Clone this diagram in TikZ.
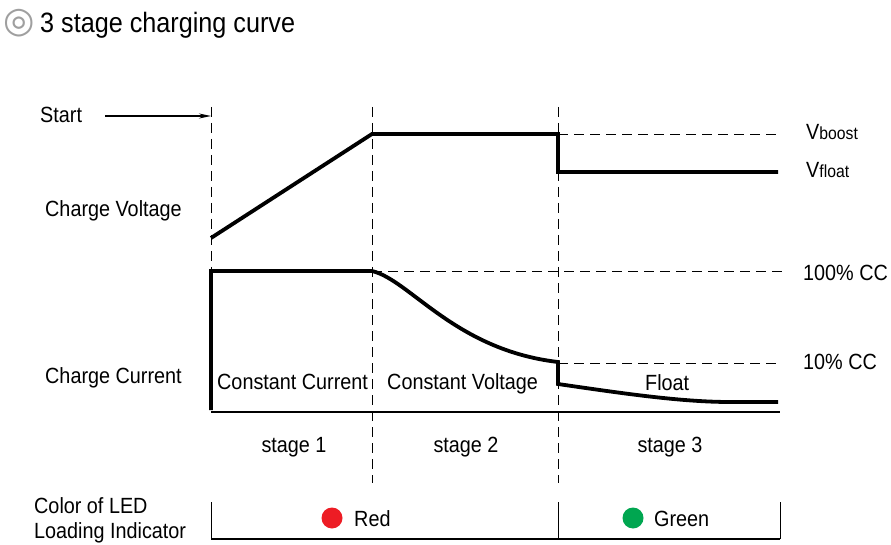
\documentclass[tikz,border=0pt]{standalone}
\usepackage{fontspec}
\setmainfont{Liberation Sans}[FakeStretch=0.9]
\newfontfamily\symfont{DejaVu Sans}
\usepackage{tikz}
\usetikzlibrary{arrows.meta}
\definecolor{ledred}{RGB}{237,28,36}
\definecolor{ledgreen}{RGB}{0,166,80}
\newcommand{\bigtext}{\fontsize{28}{32}\selectfont}
\newcommand{\lbltext}{\fontsize{22}{26}\selectfont}
\newcommand{\vsub}[1]{V{\fontsize{17.5}{20}\selectfont #1}}
\tikzstyle{lbl} = [anchor=base west, inner sep=0pt, font=\lbltext]
\tikzstyle{mid} = [anchor=base, inner sep=0pt, font=\lbltext]
\tikzstyle{curve} = [draw=black, line width=3.8pt]
\tikzstyle{guide} = [draw=black, line width=0.8pt, dash pattern=on 10pt off 6pt]
\tikzstyle{rule} = [draw=black, line width=1.2pt]
\tikzstyle{led} = [circle, minimum size=21pt, inner sep=0pt]

\begin{document}
\begin{tikzpicture}[x=1pt, y=-1pt]
  \useasboundingbox (0,0) rectangle (891,545);

  \node[anchor=center, inner sep=0pt, font=\symfont\fontsize{36}{36}\selectfont, text=gray!75] (bullet) at (19.5,23.5) {◎};
  \node[anchor=base west, inner sep=0pt, font=\bigtext] (title) at (40,33) {3 stage charging curve};

  % stage borders
  \coordinate (s0top) at (211,107);
  \coordinate (s0bot) at (211,412);
  \coordinate (s1top) at (372,107);
  \coordinate (s1bot) at (372,483);
  \coordinate (s2top) at (558,107);
  \coordinate (s2bot) at (558,483);
  \draw[guide] (s0top) -- (s0bot);
  \draw[guide] (s1top) -- (s1bot);
  \draw[guide] (s2top) -- (s2bot);

  % start
  \node[lbl] (start) at (40,123) {Start};
  \coordinate (starttail) at (105,116);
  \coordinate (starthead) at (211,116);
  \draw[line width=1.5pt, -{Stealth[length=12pt, width=5pt]}] (starttail) -- (starthead);

  % charge voltage
  \coordinate (v0) at (211,238);
  \coordinate (v1) at (372,134);
  \coordinate (v2) at (558,134);
  \coordinate (v3) at (558,172);
  \coordinate (v4) at (778,172);
  \coordinate (vend) at (782,134);
  \draw[guide] (v2) -- (vend);
  \draw[curve] (v0) -- (v1) -- (v2) -- (v3) -- (v4);

  % charge current
  \coordinate (c0) at (211,410);
  \coordinate (c1) at (211,271);
  \coordinate (c2) at (372,271);
  \coordinate (c3) at (558,362);
  \coordinate (c4) at (558,384);
  \coordinate (c5) at (730,402);
  \coordinate (c6) at (778,402);
  \coordinate (cc100) at (782,271);
  \coordinate (cc10s) at (558,363);
  \coordinate (cc10) at (782,363);
  \draw[guide] (c2) -- (cc100);
  \draw[guide] (cc10s) -- (cc10);
  \draw[curve] (c0) -- (c1) -- (c2) .. controls (410,280) and (455,350) .. (c3) -- (c4)
    .. controls (620,393) and (680,402) .. (c5) -- (c6);

  \coordinate (base0) at (211,412);
  \coordinate (base1) at (780,412);
  \draw[rule] (base0) -- (base1);

  \node[lbl] (vlabel) at (45,217) {Charge Voltage};
  \node[lbl] (clabel) at (45,383) {Charge Current};
  \node[lbl] (cclabel) at (217,389) {Constant Current};
  \node[lbl] (cvlabel) at (387,389) {Constant Voltage};
  \node[lbl] (flabel) at (645,390) {Float};
  \node[lbl] (vboost) at (806,140) {\vsub{boost}};
  \node[lbl] (vfloat) at (806,178) {\vsub{float}};
  \node[lbl] (full) at (803,280) {100\% CC};
  \node[lbl] (tenth) at (803,369) {10\% CC};

  \foreach \x/\n in {294/1, 466/2, 670/3}
    \node[mid] (stage\n) at (\x,452) {stage \n};

  % led indicator
  \node[lbl] (ledcolor) at (34,513) {Color of LED};
  \node[lbl] (ledload) at (34,538) {Loading Indicator};
  \coordinate (b0) at (211,502);
  \coordinate (b1) at (211,539);
  \coordinate (b2) at (780,539);
  \coordinate (b3) at (780,502);
  \coordinate (bm0) at (558,502);
  \coordinate (bm1) at (558,539);
  \draw[line width=0.9pt] (b0) -- (b1);
  \draw[line width=0.9pt] (b2) -- (b3);
  \draw[line width=0.9pt] (bm0) -- (bm1);
  \draw[rule] (b1) -- (b2);
  \node[led, fill=ledred] (reddot) at (332,518) {};
  \node[lbl] (redtxt) at (354,526) {Red};
  \node[led, fill=ledgreen] (greendot) at (633,518) {};
  \node[lbl] (greentxt) at (654,526) {Green};

\end{tikzpicture}
\end{document}
